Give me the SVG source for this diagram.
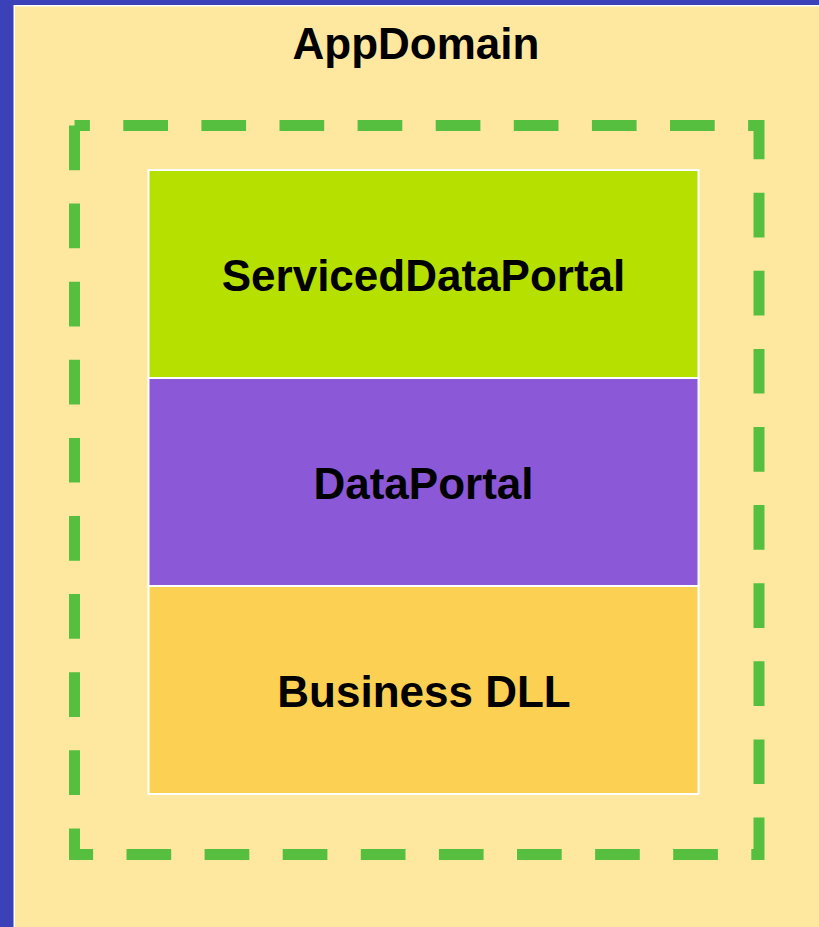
<svg xmlns="http://www.w3.org/2000/svg" width="819" height="927" viewBox="0 0 819 927">
  <style>
    .lbl { font-family: "Liberation Sans", Arial, sans-serif; font-weight: bold; font-size: 44px; fill: #000; text-anchor: middle; }
    .layer { stroke: #ffffff; stroke-width: 2; }
  </style>
  <!-- page background -->
  <rect x="0" y="0" width="819" height="927" fill="#3b41b9"/>
  <g id="appdomain">
    <rect x="14.25" y="5.75" width="812" height="930" fill="#fee8a0" stroke="#ffffff" stroke-width="1.5"/>
    <text class="lbl" x="416" y="59">AppDomain</text>
  </g>
  <!-- dashed process boundary -->
  <g id="boundary">
    <path d="M74.5,125.5 V854.5 H759 V125.5 H74.5" fill="none" stroke="#56bf3f" stroke-width="11" stroke-dasharray="44.7 33.4"/>
  </g>
  <g id="serviced-data-portal">
    <rect class="layer" x="148.5" y="170" width="550" height="208" fill="#b6e100"/>
    <text class="lbl" x="423.5" y="291">ServicedDataPortal</text>
  </g>
  <g id="data-portal">
    <rect class="layer" x="148.5" y="378" width="550" height="208" fill="#8b58d8"/>
    <text class="lbl" x="423.5" y="498.5">DataPortal</text>
  </g>
  <g id="business-dll">
    <rect class="layer" x="148.5" y="586" width="550" height="208" fill="#fcd052"/>
    <text class="lbl" x="424" y="707">Business DLL</text>
  </g>
  <g id="connectors"/>
</svg>
